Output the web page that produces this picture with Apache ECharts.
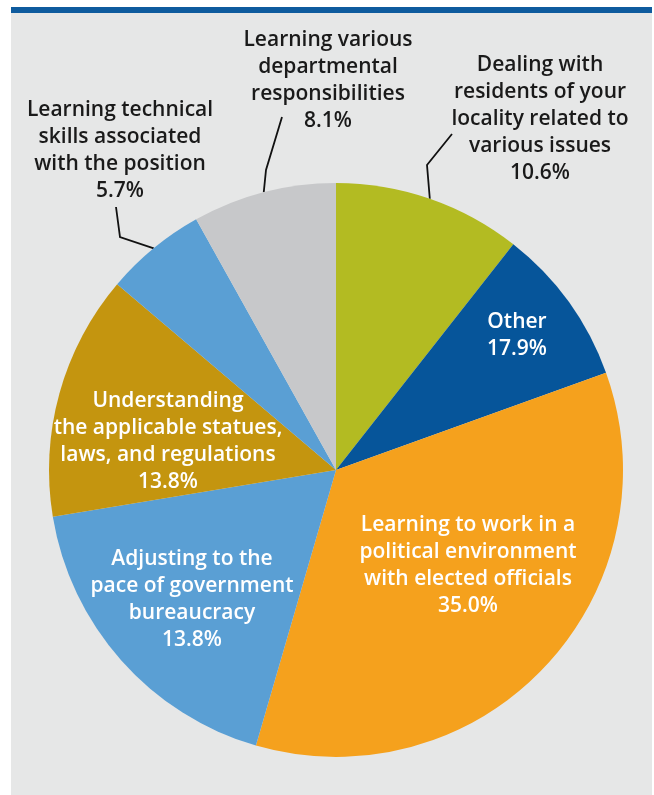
<!DOCTYPE html>
<html>
<head>
<meta charset="utf-8">
<style>
  html, body { margin: 0; padding: 0; background: #ffffff; }
  #chart { width: 654px; height: 795px; }
</style>
<script src="https://cdn.jsdelivr.net/npm/echarts@6/dist/echarts.min.js"></script>
</head>
<body>
<div id="chart"></div>
<script>
// ---- Data ----
const categories = [
  'Dealing with\nresidents of your\nlocality related to\nvarious issues',
  'Other',
  'Learning to work in a\npolitical environment\nwith elected officials',
  'Adjusting to the\npace of government\nbureaucracy',
  'Understanding\nthe applicable statues,\nlaws, and regulations',
  'Learning technical\nskills associated\nwith the position',
  'Learning various\ndepartmental\nresponsibilities'
];
// slice sizes as drawn in the picture (percent of the circle)
const sliceValues = [10.6, 8.9, 35.0, 17.9, 13.8, 5.7, 8.1];
// percentages as printed in the labels
const printedPercents = ['10.6%', '17.9%', '35.0%', '13.8%', '13.8%', '5.7%', '8.1%'];

// ---- Styling / layout ----
const colors = ['#b3bb22', '#06559a', '#f5a11d', '#5a9fd4', '#c4950f', '#5a9fd4', '#c7c8ca'];
const insideLabel = [false, true, true, true, true, false, false];
// label block centres (px)
const labelCentres = [[540, 119], [517, 336], [468, 566], [192, 600], [168, 442], [120, 151], [328, 81]];
// leader line: start offset from label centre, and bend point offset from label centre
const leaderStart = [[-88, 15], null, null, null, null, [-4, 56], [-46, 36]];
const leaderBend = [[-113, 46], null, null, null, null, [0, 86], [-62, 89]];

const chart = echarts.init(document.getElementById('chart'), null, { renderer: 'canvas' });

const data = categories.map((name, i) => ({
  name: name,
  value: sliceValues[i],
  itemStyle: { color: colors[i] },
  label: {
    position: insideLabel[i] ? 'inside' : 'outside',
    color: insideLabel[i] ? '#ffffff' : '#1a1a1a'
  },
  labelLine: { show: !insideLabel[i] }
}));

chart.setOption({
  animation: false,
  graphic: [
    { type: 'rect', shape: { x: 11, y: 13, width: 641, height: 782 }, style: { fill: '#e6e7e7' }, z: -10 },
    { type: 'rect', shape: { x: 11, y: 7, width: 641, height: 6 }, style: { fill: '#0e5b9e' }, z: -10 }
  ],
  series: [{
    type: 'pie',
    center: [336, 470],
    radius: [0, 287],
    startAngle: 90,
    clockwise: true,
    avoidLabelOverlap: false,
    silent: true,
    itemStyle: { borderWidth: 0 },
    label: {
      show: true,
      fontFamily: 'Open Sans',
      fontWeight: 600,
      fontSize: 21,
      lineHeight: 27,
      align: 'center',
      formatter: (p) => p.name + '\n' + printedPercents[p.dataIndex]
    },
    labelLine: {
      show: true,
      lineStyle: { color: '#111111', width: 1.8 }
    },
    labelLayout: (params) => {
      const i = params.dataIndex;
      const c = labelCentres[i];
      const out = { x: c[0], y: c[1], align: 'center', verticalAlign: 'middle' };
      if (!insideLabel[i] && params.labelLinePoints) {
        const edge = params.labelLinePoints[0];
        out.labelLinePoints = [
          [c[0] + leaderStart[i][0], c[1] + leaderStart[i][1]],
          [c[0] + leaderBend[i][0], c[1] + leaderBend[i][1]],
          edge
        ];
      }
      return out;
    },
    data: data
  }]
});
</script>
</body>
</html>
